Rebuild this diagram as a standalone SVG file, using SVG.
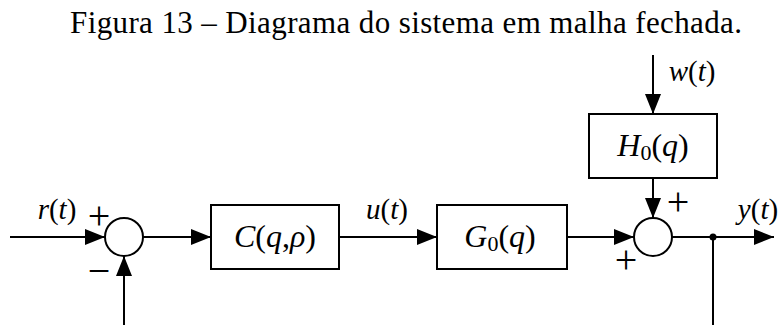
<svg xmlns="http://www.w3.org/2000/svg" width="782" height="325" viewBox="0 0 782 325">
<defs>
<style>
.ln{stroke:#000;stroke-width:2;fill:none}
.bx{stroke:#000;stroke-width:2;fill:#fff}
.t{font-family:"Liberation Serif","Times New Roman",serif;font-size:31px;fill:#000}
.m{font-family:"Liberation Serif","Times New Roman",serif;font-size:32px;fill:#000}
.l{font-family:"Liberation Serif","Times New Roman",serif;font-size:29px;fill:#000}
.p{font-family:"Liberation Serif","Times New Roman",serif;font-size:40px;fill:#000}
.i{font-style:italic}
.s{font-size:22px}
</style>
<marker id="ah" markerWidth="20" markerHeight="16" refX="20" refY="8" orient="auto" markerUnits="userSpaceOnUse">
<path d="M0,0 L20,8 L0,16 z" fill="#000"/>
</marker>
</defs>
<rect width="782" height="325" fill="#fff"/>
<text class="t" x="70" y="33" textLength="672" lengthAdjust="spacing">Figura 13 – Diagrama do sistema em malha fechada.</text>

<g id="connectors">
<line class="ln" x1="10" y1="237" x2="105" y2="237" marker-end="url(#ah)"/>
<line class="ln" x1="124" y1="325" x2="124" y2="256" marker-end="url(#ah)"/>
<line class="ln" x1="143" y1="237" x2="211" y2="237" marker-end="url(#ah)"/>
<line class="ln" x1="339" y1="237" x2="437" y2="237" marker-end="url(#ah)"/>
<line class="ln" x1="567" y1="237" x2="634" y2="237" marker-end="url(#ah)"/>
<line class="ln" x1="653" y1="55" x2="653" y2="114" marker-end="url(#ah)"/>
<line class="ln" x1="653" y1="178" x2="653" y2="218" marker-end="url(#ah)"/>
<line class="ln" x1="672" y1="237" x2="774" y2="237" marker-end="url(#ah)"/>
<line class="ln" x1="713" y1="237" x2="713" y2="325"/>
<circle cx="713" cy="237" r="3.5" fill="#000"/>
</g>

<g id="sum1">
<circle class="bx" cx="124" cy="237" r="19"/>
<text class="p" x="99" y="229" text-anchor="middle">+</text>
<text class="p" x="99" y="284" text-anchor="middle">−</text>
</g>

<g id="sum2">
<circle class="bx" cx="653" cy="237" r="19"/>
<text class="p" x="678" y="215" text-anchor="middle">+</text>
<text class="p" x="626" y="273" text-anchor="middle">+</text>
</g>

<g id="C">
<rect class="bx" x="211" y="205" width="128" height="64"/>
<text class="m" x="275" y="247" text-anchor="middle"><tspan class="i">C</tspan>(<tspan class="i">q</tspan>,<tspan class="i">ρ</tspan>)</text>
</g>

<g id="G">
<rect class="bx" x="437" y="205" width="130" height="64"/>
<text class="m" x="500" y="247" text-anchor="middle"><tspan class="i">G</tspan><tspan class="s" dy="4">0</tspan><tspan dy="-4">(</tspan><tspan class="i">q</tspan>)</text>
</g>

<g id="H">
<rect class="bx" x="589" y="114" width="128" height="64"/>
<text class="m" x="653" y="156" text-anchor="middle"><tspan class="i">H</tspan><tspan class="s" dy="4">0</tspan><tspan dy="-4">(</tspan><tspan class="i">q</tspan>)</text>
</g>

<g id="labels">
<text class="l" x="57" y="219" text-anchor="middle"><tspan class="i">r</tspan>(<tspan class="i">t</tspan>)</text>
<text class="l" x="387" y="219" text-anchor="middle"><tspan class="i">u</tspan>(<tspan class="i">t</tspan>)</text>
<text class="l" x="692" y="81" text-anchor="middle"><tspan class="i">w</tspan>(<tspan class="i">t</tspan>)</text>
<text class="l" x="758" y="219" text-anchor="middle"><tspan class="i">y</tspan>(<tspan class="i">t</tspan>)</text>
</g>
</svg>
